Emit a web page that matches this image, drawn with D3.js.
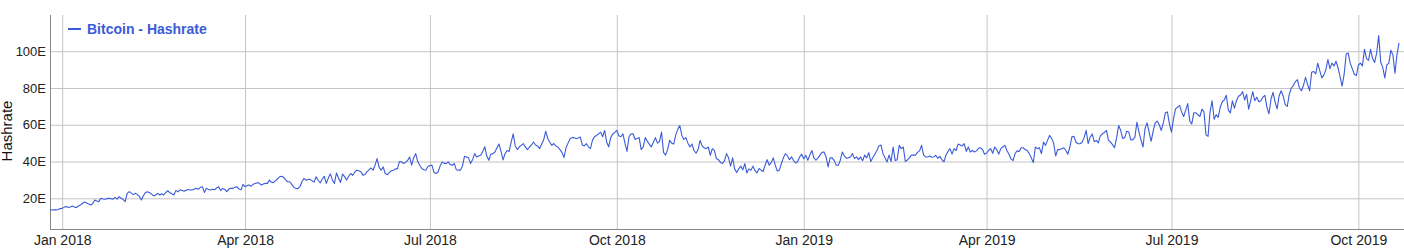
<!DOCTYPE html>
<html lang="en">
<head>
    <meta charset="UTF-8">
    <title>Bitcoin - Hashrate</title>
    <style>
        body {
            margin: 0;
            background-color: #fff;
            font-family: Helvetica, Arial, "Liberation Sans", sans-serif;
        }
        .grid line {
            stroke: #c4c4c4;
            stroke-width: 1;
        }
        .grid .domain {
            display: none;
        }
        .tick text {
            fill: #222;
            font-size: 13px;
            font-family: Helvetica, Arial, "Liberation Sans", sans-serif;
        }
        .x-grid .tick text {
            font-size: 14px;
        }
        .axis-line {
            stroke: #888;
            stroke-width: 1;
        }
        .axis-label {
            fill: #111;
            font-size: 15px;
        }
        .legend-text {
            fill: #3a5bd9;
            font-size: 14px;
            font-weight: bold;
        }
    </style>
</head>
<body>
    <svg id="chart" width="1404" height="250"></svg>

    <script src="https://d3js.org/d3.v7.min.js"></script>
    <script>
        // Series name and first day of the daily series
        var seriesName = 'Bitcoin - Hashrate';
        var startDate = '2017-12-26';

        // Daily hashrate, in EH/s
        var hashrate = [
            13.7, 13.6, 13.8, 13.7, 13.9, 14.4, 14.5, 15.2, 15.5, 15.0,
            15.3, 15.8, 15.2, 15.0, 15.8, 16.4, 17.2, 18.0, 17.5, 16.9,
            16.4, 17.0, 19.1, 18.5, 18.2, 20.0, 19.6, 19.5, 19.8, 20.0,
            19.8, 19.5, 20.5, 19.6, 20.9, 20.0, 19.3, 18.2, 22.7, 23.6,
            22.8, 22.0, 22.7, 22.0, 21.0, 19.1, 21.5, 23.1, 23.6, 23.0,
            22.3, 21.3, 21.8, 22.7, 21.8, 22.5, 21.8, 23.2, 24.1, 23.0,
            22.5, 21.8, 24.3, 23.5, 24.6, 24.2, 23.8, 24.4, 24.8, 24.5,
            24.5, 25.0, 25.4, 24.9, 26.0, 26.3, 23.2, 25.4, 24.8, 24.5,
            24.9, 24.6, 25.6, 26.3, 24.2, 25.4, 24.8, 23.6, 25.0, 25.4,
            25.4, 26.0, 26.3, 25.0, 24.6, 27.6, 26.3, 26.9, 27.2, 26.6,
            27.6, 28.1, 28.5, 28.3, 27.2, 27.8, 28.1, 28.1, 29.9, 28.8,
            28.5, 29.6, 30.5, 31.7, 32.0, 31.5, 30.0, 29.0, 29.0, 27.6,
            26.0, 25.4, 25.2, 26.3, 29.0, 30.8, 29.9, 30.2, 30.3, 29.5,
            28.8, 31.7, 29.8, 28.3, 30.5, 31.9, 28.1, 31.0, 33.3, 30.0,
            28.1, 33.8, 31.0, 28.6, 33.2, 31.8, 29.9, 32.0, 33.5, 32.5,
            34.2, 35.3, 35.0, 34.5, 32.6, 33.0, 34.4, 35.5, 36.5, 35.3,
            38.0, 41.6, 36.8, 35.3, 37.1, 33.5, 32.8, 34.0, 35.0, 35.3,
            36.0, 36.0, 40.0, 39.8, 38.9, 39.5, 40.6, 42.5, 38.0, 42.0,
            44.3, 40.0, 38.0, 36.2, 35.5, 35.3, 37.3, 37.8, 38.0, 34.0,
            33.5, 34.3, 37.5, 39.8, 39.0, 38.9, 39.8, 38.3, 38.0, 38.9,
            35.5, 35.3, 35.3, 37.5, 42.8, 42.5, 42.0, 38.9, 41.0, 44.3,
            42.5, 43.0, 43.4, 45.5, 48.0, 43.0, 40.7, 44.0, 44.3, 45.2,
            47.5, 49.5, 45.5, 40.9, 44.3, 46.0, 45.5, 50.5, 55.1, 48.5,
            46.5, 48.0, 48.8, 49.7, 47.8, 46.5, 47.9, 49.0, 50.6, 49.0,
            48.5, 47.0, 49.5, 51.8, 56.5, 52.5, 50.5, 48.8, 49.8, 48.5,
            47.9, 46.5, 45.0, 42.2, 47.5, 50.0, 52.4, 53.0, 53.0, 52.4,
            52.8, 53.3, 49.0, 48.5, 49.7, 48.0, 47.0, 51.5, 53.5, 54.2,
            55.0, 56.0, 53.5, 56.9, 50.5, 48.0, 53.0, 55.0, 55.8, 56.9,
            54.0, 53.5, 55.0, 50.0, 45.5, 53.5, 55.0, 55.1, 52.0, 52.5,
            53.0, 46.5, 48.0, 53.0, 51.0, 49.5, 48.0, 50.5, 53.0, 50.0,
            51.0, 56.0, 45.0, 43.5, 46.5, 51.5, 50.0, 49.5, 54.5, 57.5,
            59.6, 54.2, 52.0, 53.0, 50.0, 47.9, 49.5, 46.0, 44.5, 46.5,
            51.5, 48.5, 47.5, 47.0, 47.9, 43.4, 47.0, 46.1, 41.6, 41.0,
            39.5, 38.9, 40.5, 44.3, 42.0, 37.5, 42.0, 36.0, 34.0, 36.0,
            37.5, 35.5, 38.9, 33.8, 36.0, 35.3, 37.5, 35.0, 33.8, 36.2,
            35.3, 34.6, 38.0, 41.0, 38.0, 39.5, 42.0, 38.0, 34.8, 35.3,
            38.9, 42.0, 44.3, 43.0, 41.0, 42.5, 40.5, 39.2, 40.0, 42.5,
            44.0, 41.5, 43.4, 40.7, 43.5, 46.0, 42.0, 40.7, 42.0, 43.5,
            45.0, 45.2, 42.5, 37.1, 42.0, 42.0, 40.5, 38.0, 38.0, 40.7,
            45.2, 43.0, 41.8, 42.0, 42.5, 44.3, 41.6, 42.5, 41.0, 42.5,
            40.4, 43.5, 42.0, 44.8, 40.0, 42.0, 44.0, 46.0, 48.5, 49.0,
            44.3, 42.0, 39.8, 43.5, 40.0, 47.9, 40.5, 41.0, 48.8, 47.0,
            47.9, 40.0, 40.8, 42.0, 43.5, 43.5, 43.5, 45.0, 45.8, 48.8,
            43.5, 42.5, 42.5, 43.0, 42.3, 42.5, 43.4, 41.8, 42.8, 41.0,
            39.8, 43.4, 45.5, 47.0, 44.0, 47.0, 46.0, 49.5, 49.0, 48.5,
            49.7, 45.5, 47.9, 45.2, 46.1, 45.2, 45.8, 47.2, 47.5, 46.5,
            44.0, 44.5, 46.0, 47.0, 44.5, 47.9, 46.5, 44.0, 47.0, 47.9,
            48.8, 46.0, 44.0, 41.5, 40.5, 44.2, 45.8, 45.5, 47.5, 47.5,
            46.5, 46.0, 44.3, 42.0, 39.5, 47.9, 47.0, 47.5, 44.3, 50.6,
            48.8, 51.5, 54.2, 52.5, 50.0, 43.0, 46.5, 46.5, 47.0, 47.5,
            46.0, 44.0, 47.9, 53.5, 53.7, 50.5, 49.7, 49.7, 50.5, 53.0,
            57.0, 49.7, 53.3, 55.0, 50.8, 51.5, 50.1, 54.0, 55.1, 55.8,
            56.9, 51.5, 50.6, 49.2, 47.5, 53.0, 59.6, 57.0, 52.5, 53.0,
            56.5, 56.0, 51.8, 51.9, 53.3, 61.4, 56.0, 51.8, 47.9, 58.0,
            61.0, 56.0, 51.0, 56.5, 61.0, 62.0, 60.0, 56.9, 61.0, 66.5,
            67.0, 60.5, 56.0, 63.2, 68.6, 69.5, 70.5, 67.0, 64.5, 68.0,
            71.5, 62.0, 60.5, 66.5, 66.5, 65.5, 64.5, 68.5, 67.0, 54.5,
            53.7, 67.0, 73.0, 63.0, 65.5, 64.0, 69.5, 72.5, 73.5, 76.0,
            68.0, 66.5, 73.0, 69.0, 73.1, 75.5, 76.2, 78.0, 73.5, 76.5,
            68.5, 73.1, 78.0, 73.1, 75.0, 72.5, 73.1, 75.0, 76.0, 69.5,
            66.0, 74.0, 77.6, 72.5, 68.6, 75.8, 78.5, 75.5, 71.0, 70.0,
            76.5, 80.0, 81.3, 83.5, 84.5, 80.0, 78.5, 81.5, 85.8, 82.0,
            78.5, 88.5, 89.0, 87.6, 93.5, 89.5, 85.5, 87.0, 90.0, 95.5,
            90.5, 93.5, 92.0, 94.5, 91.0, 86.0, 81.0, 87.5, 98.5, 99.0,
            93.5, 90.5, 87.5, 86.7, 92.5, 93.5, 92.0, 101.1, 96.0, 95.0,
            101.0, 96.0, 93.9, 99.0, 108.5, 94.0, 91.2, 85.5, 92.5, 93.5,
            100.5, 98.0, 88.0, 98.0, 104.5
        ];

        // Axis ticks
        var xTicks = ['2018-01-01', '2018-04-01', '2018-07-01', '2018-10-01',
                      '2019-01-01', '2019-04-01', '2019-07-01', '2019-10-01'];
        var yTicks = [20, 40, 60, 80, 100];

        var width = 1404;
        var height = 250;
        var plotLeft = 50, plotTop = 15, plotBottom = 229, plotRight = 1399;

        var parseDate = d3.timeParse('%Y-%m-%d');
        var day0 = parseDate(startDate);

        var data = hashrate.map(function (v, i) {
            return { date: d3.timeDay.offset(day0, i), value: v };
        });

        var svg = d3.select('#chart');

        var x = d3.scaleTime()
            .domain(d3.extent(data, d => d.date))
            .range([plotLeft, plotRight]);

        var y = d3.scaleLinear()
            .domain([3.3, 119.7])
            .range([plotBottom, plotTop]);

        // horizontal grid + y labels
        svg.append('g')
            .attr('class', 'grid y-grid')
            .attr('transform', `translate(${plotLeft}, 0)`)
            .call(d3.axisLeft(y)
                .tickValues(yTicks)
                .tickFormat(d => d + 'E')
                .tickSize(-(width - plotLeft))
                .tickPadding(4));

        // vertical grid + x labels
        svg.append('g')
            .attr('class', 'grid x-grid')
            .attr('transform', `translate(0, ${plotBottom})`)
            .call(d3.axisBottom(x)
                .tickValues(xTicks.map(parseDate))
                .tickFormat(d3.timeFormat('%b %Y'))
                .tickSize(-(plotBottom - plotTop))
                .tickPadding(6));

        // axis lines
        svg.append('line')
            .attr('class', 'axis-line')
            .attr('x1', plotLeft + 0.5).attr('x2', plotLeft + 0.5)
            .attr('y1', plotTop).attr('y2', plotBottom);
        svg.append('line')
            .attr('class', 'axis-line')
            .attr('x1', plotLeft).attr('x2', width)
            .attr('y1', plotBottom + 0.5).attr('y2', plotBottom + 0.5);

        // the series
        var line = d3.line()
            .x(d => x(d.date))
            .y(d => y(d.value));

        svg.append('path')
            .datum(data)
            .attr('fill', 'none')
            .attr('stroke', '#3a5bd9')
            .attr('stroke-width', 1.1)
            .attr('stroke-linejoin', 'round')
            .attr('d', line);

        // y axis title
        svg.append('text')
            .attr('class', 'axis-label')
            .attr('transform', 'translate(12, 131) rotate(-90)')
            .attr('text-anchor', 'middle')
            .text('Hashrate');

        // legend
        svg.append('line')
            .attr('x1', 68).attr('x2', 81)
            .attr('y1', 29).attr('y2', 29)
            .attr('stroke', '#3a5bd9')
            .attr('stroke-width', 2);
        svg.append('text')
            .attr('class', 'legend-text')
            .attr('x', 87)
            .attr('y', 34)
            .text(seriesName);
    </script>
</body>
</html>
